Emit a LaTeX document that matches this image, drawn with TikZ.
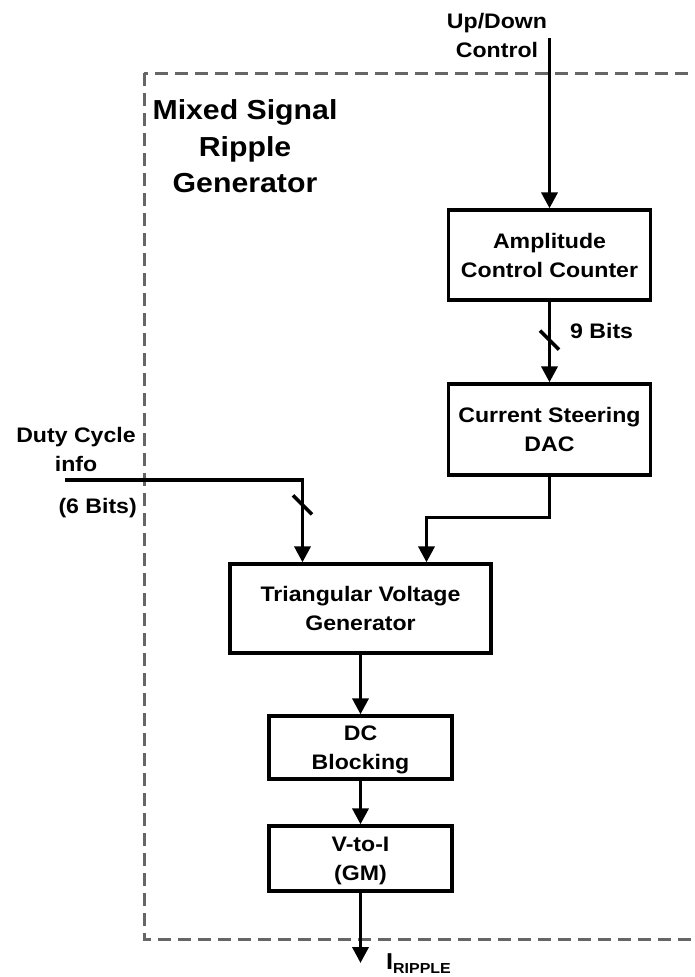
\documentclass[tikz,border=0pt]{standalone}
\usepackage{fontspec}
\setmainfont[FakeStretch=1.1]{Liberation Sans}
\usetikzlibrary{arrows.meta,calc}
\definecolor{framegray}{HTML}{666666}
\begin{document}
\begin{tikzpicture}[x=1pt,y=-1pt,
  lbl/.style={font=\bfseries\fontsize{21}{29}\selectfont, align=center, inner sep=0pt},
  blk/.style={lbl, draw, line width=3.3pt, text depth=0pt},
  sig/.style={line width=3.6pt, -{Triangle[length=16pt,width=16pt]}},
  busmark/.style={line width=3.6pt},
  frame/.style={draw=framegray, line width=3pt, dash pattern=on 13pt off 7pt}]
\useasboundingbox (0,0) rectangle (694,977);

% dashed outline of the ripple generator (runs off the right edge)
\begin{scope}
  \clip (0,0) rectangle (694,977);
  \draw[frame] (144,73) rectangle (760,939);
\end{scope}

% title
\node[lbl, font=\bfseries\fontsize{27.5}{36.5}\selectfont, text depth=0pt] (title) at (245,146.5)
  {Mixed Signal\\Ripple\\Generator};

% blocks
\node[blk, minimum width=202pt, minimum height=90pt] (acc) at (549.5,255) {Amplitude\\Control Counter};
\node[blk, minimum width=202pt, minimum height=91pt] (csd) at (549.5,429.5) {Current Steering\\DAC};
\node[blk, minimum width=261pt, minimum height=89pt] (tvg) at (360.5,608.5) {Triangular Voltage\\Generator};
\node[blk, minimum width=183pt, minimum height=63pt] (dcb) at (360.5,747.5) {DC\\Blocking};
\node[blk, minimum width=183pt, minimum height=65pt] (vtoi) at (360.5,858.5) {V-to-I\\(GM)};

% input / output labels
\node[lbl, text depth=0pt] (udlbl) at (497,35.5) {Up/Down\\Control};
\node[lbl, text depth=0pt] (dutylbl) at (76,449.5) {Duty Cycle\\info};
\node[lbl, anchor=base east] (sixbits) at (137,513) {(6 Bits)};
\node[lbl, anchor=base west] (ninebits) at (570,338) {9 Bits};
\node[lbl, anchor=base west] (irip) at (386,969)
  {{\fontsize{23}{23}\selectfont I}{\fontsize{14.5}{15}\selectfont\raisebox{-4pt}{RIPPLE}}};

% free ends of the connectors
\coordinate (udin) at (549.5,38);
\coordinate (dutyin) at (65,480);
\coordinate (iout) at (360.5,963);

% connectors
\draw[sig] (udin) -- (udin |- acc.north);
\draw[sig] (acc) -- (csd);
\draw[sig] (csd.south) -- ++(0,41) -| ($(tvg.north)+(66,0)$);
\draw[sig] (dutyin) -| ($(tvg.north)+(-58,0)$);
\draw[sig] (tvg) -- (dcb);
\draw[sig] (dcb) -- (vtoi);
\draw[sig] (vtoi) -- (iout);

% bus-width slashes
\draw[busmark] ($(acc.south)+(-9.5,29)$) -- ++(19,19);
\draw[busmark] ($(tvg.north)+(-67.5,-67)$) -- ++(19,19);
\end{tikzpicture}
\end{document}
